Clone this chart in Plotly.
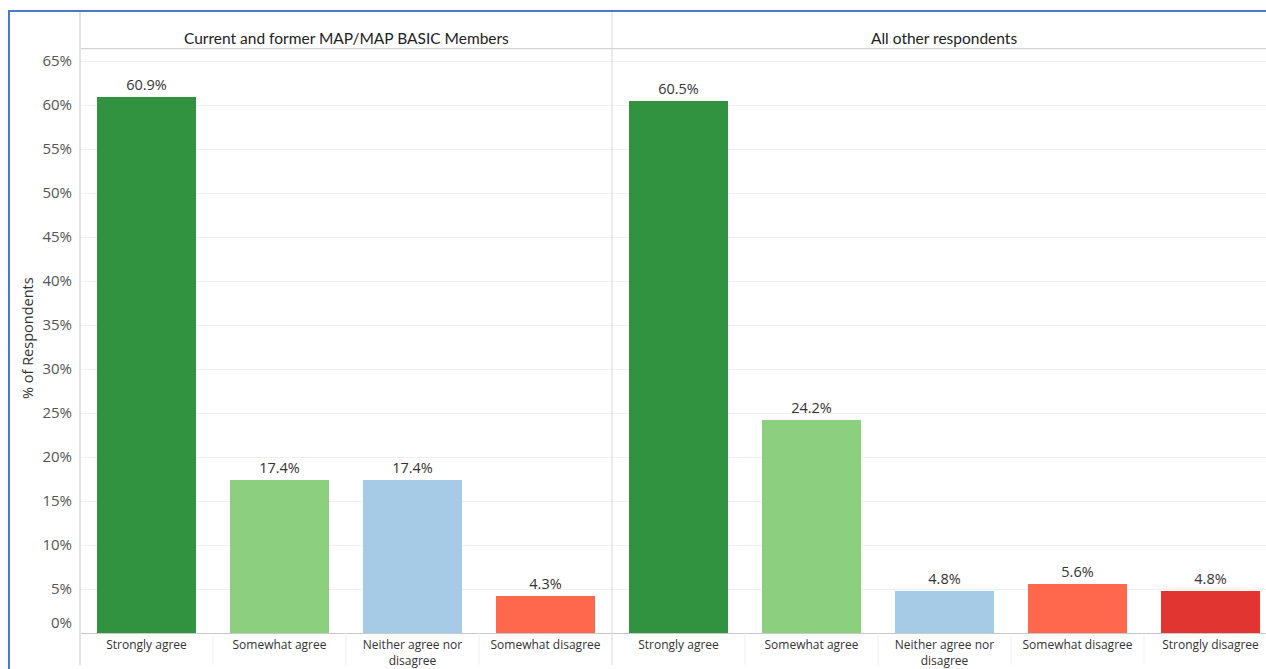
import plotly.graph_objects as go

# Survey responses, % of respondents
members_cats = ["Strongly agree", "Somewhat agree", "Neither agree nor<br>disagree", "Somewhat disagree"]
members_vals = [60.9, 17.4, 17.4, 4.3]
others_cats = ["Strongly agree", "Somewhat agree", "Neither agree nor<br>disagree", "Somewhat disagree", "Strongly disagree"]
others_vals = [60.5, 24.2, 4.8, 5.6, 4.8]
panel_titles = ["Current and former MAP/MAP BASIC Members", "All other respondents"]
y_ticks = [5, 10, 15, 20, 25, 30, 35, 40, 45, 50, 55, 60, 65]

palette = {
    "Strongly agree": "#31923F",
    "Somewhat agree": "#8CCF7E",
    "Neither agree nor<br>disagree": "#A6CBE7",
    "Somewhat disagree": "#FF684C",
    "Strongly disagree": "#E03531",
}

W, H = 1266, 669
def px(x):
    return x / W
def py(y):
    return 1 - y / H

BODY = "'Open Sans', sans-serif"
HEAD = "Lato, sans-serif"
TXT = "#333333"
TICK = "#555555"

fig = go.Figure()
for cats, vals, xa, ya in [(members_cats, members_vals, "x", "y"), (others_cats, others_vals, "x2", "y2")]:
    fig.add_trace(go.Bar(
        x=cats, y=vals, xaxis=xa, yaxis=ya,
        marker=dict(color=[palette[c] for c in cats], line=dict(width=0)),
        width=0.744,
        text=[f"{v:.1f}%" for v in vals],
        textposition="outside",
        textfont=dict(family=BODY, size=14.5, color=TXT),
        cliponaxis=False,
        showlegend=False,
        hoverinfo="x+y",
    ))

y_top = (637 - 49) / 8.855
yaxis_common = dict(
    range=[0, y_top], domain=[py(637), py(49)],
    tickvals=y_ticks, ticktext=[f"{t}%" for t in y_ticks],
    showgrid=True, gridcolor="#F0F0F0", gridwidth=1,
    zeroline=True, zerolinecolor="#C8C8C8", zerolinewidth=1,
    showline=False, ticks="", fixedrange=True,
)
cat_w = 133
fig.update_layout(
    width=W, height=H,
    margin=dict(l=0, r=0, t=0, b=0),
    paper_bgcolor="white", plot_bgcolor="white",
    font=dict(family=BODY, color=TXT),
    bargap=0,
    xaxis=dict(domain=[px(80), px(612)], range=[-0.5, 3.5], type="category",
               showgrid=False, zeroline=False, showline=False, ticks="",
               tickfont=dict(family=BODY, size=12, color=TXT), ticklabelstandoff=3, fixedrange=True),
    xaxis2=dict(domain=[px(612), 1], range=[-0.5, -0.5 + (W - 612) / cat_w], type="category",
                showgrid=False, zeroline=False, showline=False, ticks="",
                tickfont=dict(family=BODY, size=12, color=TXT), ticklabelstandoff=3, fixedrange=True),
    yaxis=dict(anchor="x", tickfont=dict(family=BODY, size=15, color=TICK), ticklabelstandoff=7, **yaxis_common),
    yaxis2=dict(anchor="x2", matches="y", showticklabels=False, **yaxis_common),
)

# 0% label sits just above the baseline
fig.add_annotation(xref="paper", yref="y", x=px(74), y=0, yshift=11, text="0%",
                   showarrow=False, xanchor="right", yanchor="middle",
                   font=dict(family=BODY, size=15, color=TICK))

# Axis title
fig.add_annotation(xref="paper", yref="paper", x=px(28), y=py(340), text="% of Respondents",
                   textangle=-90, showarrow=False, xanchor="center", yanchor="middle",
                   font=dict(family=BODY, size=14.5, color=TXT))

# Panel headers
fig.add_annotation(xref="paper", yref="paper", x=px(346), y=py(38), text=panel_titles[0],
                   showarrow=False, xanchor="center", yanchor="middle",
                   font=dict(family=HEAD, size=15.5, color="#222222"))
fig.add_annotation(xref="paper", yref="paper", x=px(944), y=py(38), text=panel_titles[1],
                   showarrow=False, xanchor="center", yanchor="middle",
                   font=dict(family=HEAD, size=15.5, color="#222222"))

shapes = []
# header divider
shapes.append(dict(type="line", xref="paper", yref="paper", x0=px(80), x1=1, y0=py(49), y1=py(49),
                   line=dict(color="#C8C8C8", width=1)))
# left pane border and panel separator
shapes.append(dict(type="line", xref="paper", yref="paper", x0=px(80), x1=px(80), y0=0, y1=py(11),
                   line=dict(color="#E3E3E3", width=2)))
shapes.append(dict(type="line", xref="paper", yref="paper", x0=px(612), x1=px(612), y0=0, y1=py(11),
                   line=dict(color="#D6D6D6", width=1)))
# category dividers in the label band
for xa, n in [("x", len(members_cats)), ("x2", len(others_cats))]:
    for i in range(n - 1):
        shapes.append(dict(type="line", xref=xa, yref="paper", x0=i + 0.5, x1=i + 0.5, y0=0, y1=py(637),
                           line=dict(color="#EFEFEF", width=1)))
# outer frame
shapes.append(dict(type="rect", xref="paper", yref="paper", x0=px(9), x1=1.02, y0=-0.02, y1=py(11),
                   line=dict(color="#4A78CC", width=2), fillcolor="rgba(0,0,0,0)"))
fig.update_layout(shapes=shapes)

fig.write_html("out.html")
